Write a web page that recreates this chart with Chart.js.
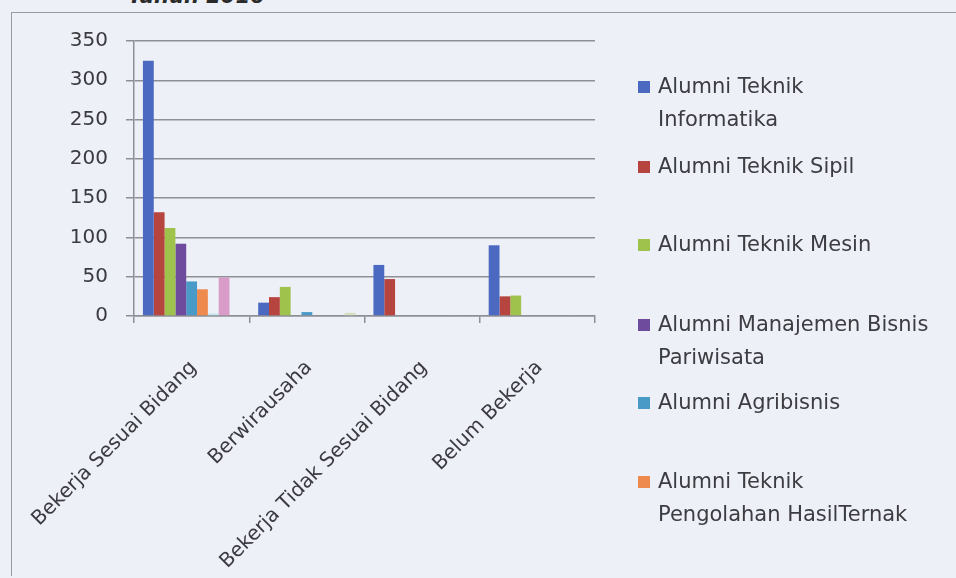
<!DOCTYPE html>
<html>
<head>
<meta charset="utf-8">
<script src="https://cdn.jsdelivr.net/npm/chart.js@4"></script>
<style>
  html, body { margin: 0; padding: 0; background: #eef0f7; overflow: hidden; }
  #wrap { position: relative; width: 956px; height: 578px; overflow: hidden; }
  #frame { position: absolute; left: 11px; top: 12px; width: 1000px; height: 563px;
           border-left: 1.5px solid #9a9aa2; border-top: 1.5px solid #9a9aa2; }
  #judul { position: absolute; left: 128px; top: -16px; font: italic bold 21px "DejaVu Sans"; color: #2a2a2a; }
  #box { position: absolute; left: 0; top: 0; width: 956px; height: 578px; }
  #legenda { position: absolute; left: 0; top: 0; font: 21px "DejaVu Sans"; color: #3c3c42; }
  .item { position: absolute; left: 658px; line-height: 33px; white-space: nowrap; }
  .kotak { position: absolute; left: -20px; top: 11px; width: 12px; height: 12px; }
</style>
</head>
<body>
<div id="wrap">
  <div id="frame"></div>
  <div id="judul">Tahun 2016</div>
  <div id="box"><canvas id="grafik"></canvas></div>
  <div id="legenda"></div>
</div>
<script>
// kategori status alumni
const kategori = ["Bekerja Sesuai Bidang", "Berwirausaha", "Bekerja Tidak Sesuai Bidang", "Belum Bekerja"];

// jumlah alumni per program studi
const teknikInformatika = [325, 17, 65, 90];
const teknikSipil = [132, 24, 47, 25];
const teknikMesin = [112, 37, 0, 26];
const manajemenBisnisPariwisata = [92, 0, 0, 0];
const agribisnis = [44, 5, 0, 0];
const pengolahanHasilTernak = [34, 0, 0, 0];
const seri7 = [3, 0, 0, 0];
const seri8 = [49, 0, 1, 1];
const seri9 = [0, 4, 0, 0];

const namaSeri = ["Alumni Teknik Informatika", "Alumni Teknik Sipil", "Alumni Teknik Mesin",
  "Alumni Manajemen Bisnis Pariwisata", "Alumni Agribisnis", "Alumni Teknik Pengolahan HasilTernak",
  "Seri 7", "Seri 8", "Seri 9"];
// baris legenda (teks dibungkus seperti di gambar)
const barisLegenda = [["Alumni Teknik", "Informatika"], ["Alumni Teknik Sipil"], ["Alumni Teknik Mesin"],
  ["Alumni Manajemen Bisnis", "Pariwisata"], ["Alumni Agribisnis"], ["Alumni Teknik", "Pengolahan HasilTernak"]];
const nilaiSeri = [teknikInformatika, teknikSipil, teknikMesin, manajemenBisnisPariwisata,
  agribisnis, pengolahanHasilTernak, seri7, seri8, seri9];
const warna = ["#4c69c1", "#b6443f", "#9fc24c", "#6e4b9c", "#4a9ac8", "#ef8a4f", "#bfe6ef", "#d99bc8", "#d6e0c0"];

const legendTop = [70, 150, 228, 308, 386, 465];

const datasets = nilaiSeri.map(function (v, i) {
  return {
    label: namaSeri[i],
    data: v,
    backgroundColor: warna[i],
    borderWidth: 0,
    barPercentage: 1.0,
    categoryPercentage: 0.845
  };
});

const garis = "#8f8f96";
const teks = "#3a3a40";

new Chart("grafik", {
  type: "bar",
  data: { labels: kategori, datasets: datasets },
  options: {
    responsive: true,
    maintainAspectRatio: false,
    animation: false,
    layout: { padding: { top: 41, right: 361, left: 0, bottom: 0 } },
    plugins: { legend: { display: false }, tooltip: { enabled: false } },
    scales: {
      x: {
        grid: { drawOnChartArea: false, drawTicks: true, tickLength: 7, color: garis, lineWidth: 1.5 },
        border: { color: garis, width: 1.5 },
        ticks: { font: { family: "DejaVu Sans", size: 20 }, color: teks, minRotation: 45, maxRotation: 45,
                 autoSkip: false, padding: 33, labelOffset: 2 },
        afterFit: function (s) { s.height = 262; s.paddingLeft = 0; s.paddingRight = 0; }
      },
      y: {
        min: 0, max: 350,
        grid: { color: garis, lineWidth: 1.5, tickLength: 8 },
        border: { color: garis, width: 1.5 },
        ticks: { stepSize: 50, font: { family: "DejaVu Sans", size: 20 }, color: teks, padding: 18 },
        afterFit: function (s) { s.width = 134; s.paddingTop = 0; s.paddingBottom = 0; }
      }
    }
  }
});

// legenda buatan sendiri (hanya enam seri yang tampak di gambar)
const leg = document.getElementById("legenda");
barisLegenda.forEach(function (baris, i) {
  const el = document.createElement("div");
  el.className = "item";
  el.style.top = legendTop[i] + "px";
  const k = document.createElement("div");
  k.className = "kotak";
  k.style.background = warna[i];
  el.appendChild(k);
  baris.forEach(function (t) {
    const d = document.createElement("div");
    d.textContent = t;
    el.appendChild(d);
  });
  leg.appendChild(el);
});
</script>
</body>
</html>
